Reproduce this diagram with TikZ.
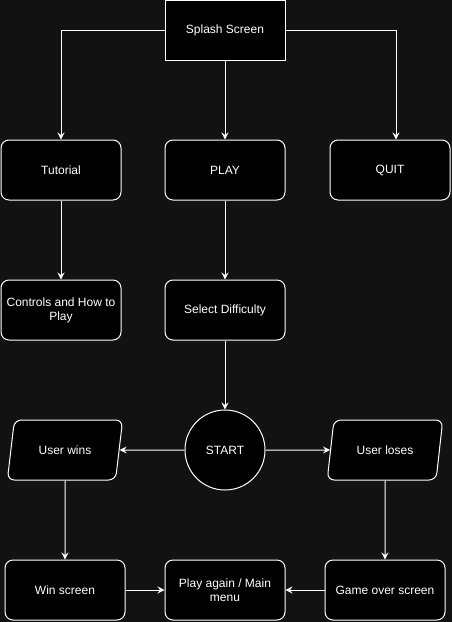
\documentclass[tikz,border=0pt]{standalone}
\usepackage{fontspec}
\setmainfont{Liberation Sans}
\usetikzlibrary{shapes.geometric,arrows.meta}
\definecolor{canvas}{RGB}{18,18,18}
\begin{document}
\begin{tikzpicture}[x=1pt,y=-1pt,font=\fontsize{12}{14}\selectfont,
  base/.style={draw=white,fill=black,text=white,line width=1pt,align=center},
  box/.style={base,rounded corners=8pt,minimum width=120pt,minimum height=60pt},
  slant/.style={base,trapezium,trapezium left angle=75,trapezium right angle=105,
    trapezium stretches=true,rounded corners=7pt,minimum width=116pt,minimum height=60pt},
  arr/.style={draw=white,line width=1pt,-{Stealth[length=7pt,width=7pt,inset=2.5pt]}}]

\fill[canvas] (0,0) rectangle (452,622);
\useasboundingbox (0,0) rectangle (452,622);

\node[base,minimum width=120pt,minimum height=60pt] (splash) at (225,30) {Splash Screen};
\node[box] (tut)  at (61,170)  {Tutorial};
\node[box] (play) at (225,170) {PLAY};
\node[box] (quit) at (390,170) {QUIT};
\node[box] (ctrl) at (61,310)  {Controls and How to\\Play};
\node[box] (diff) at (225,310) {Select Difficulty};
\node[base,circle,minimum size=80pt] (start) at (225,450) {START};
\node[slant] (wins)  at (65,450)  {User wins};
\node[slant] (loses) at (385,450) {User loses};
\node[box] (winscr)  at (65,590)  {Win screen};
\node[box] (again)   at (225,590) {Play again / Main\\menu};
\node[box] (over)    at (385,590) {Game over screen};

% menu
\draw[arr] (splash.west) -| (tut.north);
\draw[arr] (splash.south) -- (play.north);
\draw[arr] (splash.east) -| ([xshift=6pt]quit.north);
\draw[arr] (tut.south) -- (ctrl.north);
\draw[arr] (play.south) -- (diff.north);
\draw[arr] (diff.south) -- (start.north);

% game
\draw[arr] (start.west) -- (wins.east);
\draw[arr] (start.east) -- (loses.west);
\draw[arr] (wins.south) -- (winscr.north);
\draw[arr] (loses.south) -- (over.north);
\draw[arr] (winscr.east) -- (again.west);
\draw[arr] (over.west) -- (again.east);

\end{tikzpicture}
\end{document}
